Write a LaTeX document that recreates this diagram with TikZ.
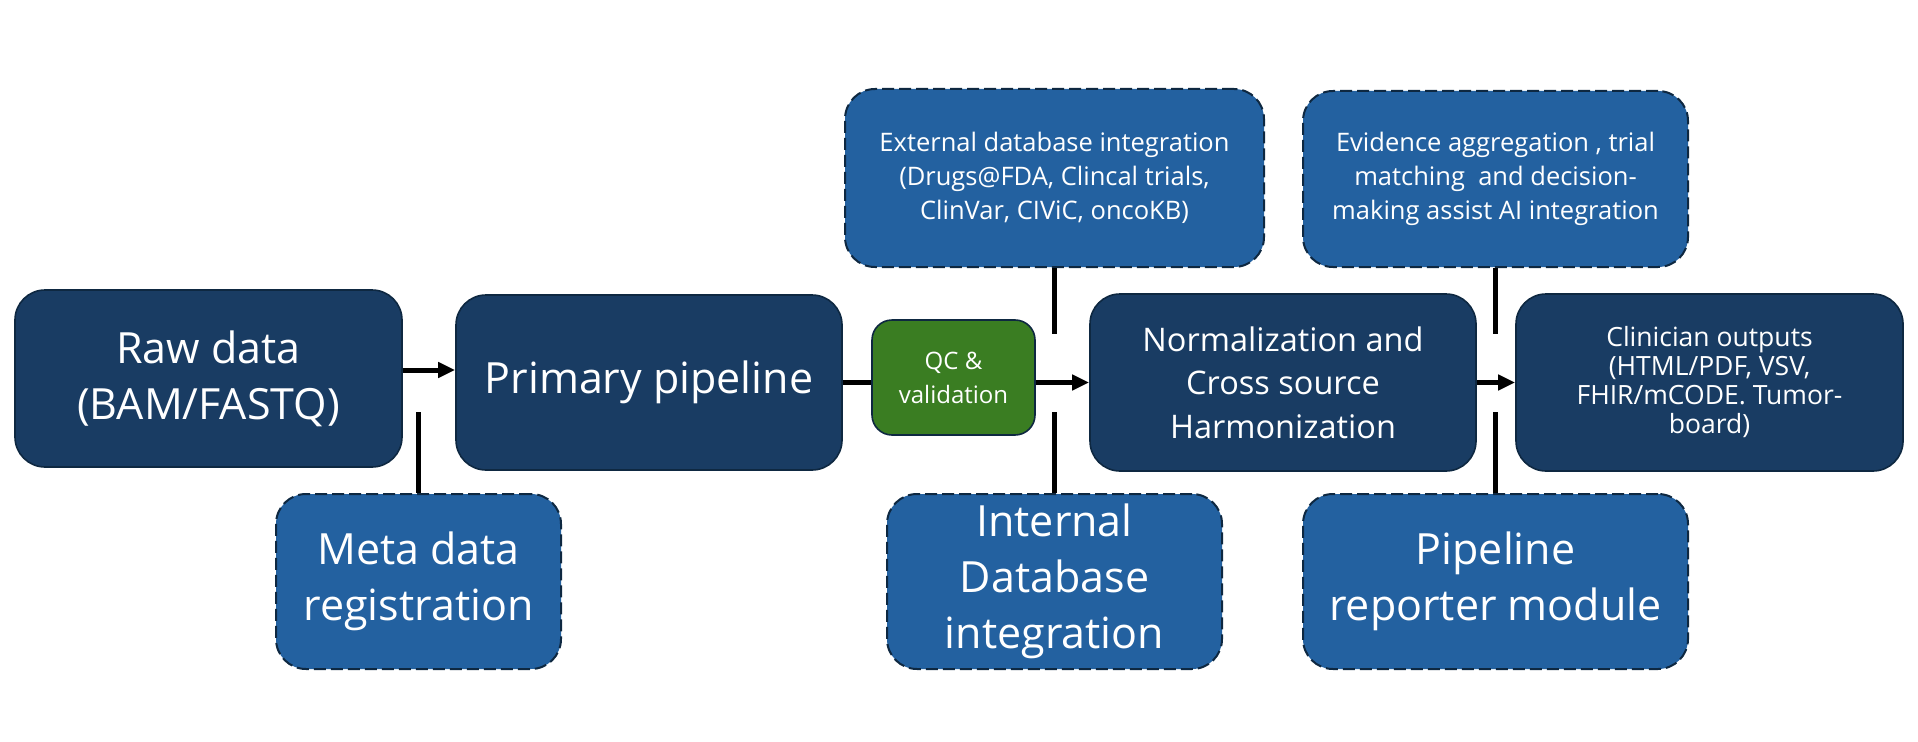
\documentclass[tikz,border=0pt]{standalone}
\usepackage{fontspec}
\setmainfont{Open Sans}
\usetikzlibrary{arrows.meta}
\definecolor{navy}{HTML}{193C63}
\definecolor{midblue}{HTML}{2361A0}
\definecolor{qcgreen}{HTML}{3A7D22}
\definecolor{edge}{HTML}{0E2841}
\tikzset{
  box/.style={draw=edge, line width=1.6pt, rounded corners=30pt, text=white, align=center, inner sep=0pt, anchor=center},
  mainbox/.style={box, fill=navy},
  sidebox/.style={box, fill=midblue, dash pattern=on 12pt off 5pt, line width=2pt},
  qcbox/.style={box, fill=qcgreen, rounded corners=20pt},
  bigtxt/.style={font=\fontsize{43}{56}\selectfont},
  midtxt/.style={font=\fontsize{32.5}{43.5}\selectfont},
  smalltxt/.style={font=\fontsize{25.5}{34}\selectfont},
  clintxt/.style={font=\fontsize{26.5}{29}\selectfont},
  qctxt/.style={font=\fontsize{24}{34}\selectfont},
  conn/.style={line width=5pt, draw=black},
  arr/.style={conn, -{Triangle[length=17pt,width=15pt]}},
}
\begin{document}
\begin{tikzpicture}[x=1pt,y=-1pt]
\useasboundingbox (0,0) rectangle (1918,741);
% main row
\node[mainbox, bigtxt, minimum width=387pt, minimum height=177pt] (raw) at (208.5,378.5) {Raw data\\(BAM/FASTQ)};
\node[mainbox, bigtxt, minimum width=386pt, minimum height=175pt] (prim) at (649,382.5) {Primary pipeline};
\node[qcbox, qctxt, minimum width=163pt, minimum height=115pt] (qc) at (953.5,377.5) {QC \&\\validation};
\node[mainbox, midtxt, minimum width=386pt, minimum height=177pt] (norm) at (1283,382.5) {Normalization and\\Cross source\\Harmonization};
\node[mainbox, clintxt, minimum width=387pt, minimum height=177pt] (clin) at (1709.5,382.5) {Clinician outputs\\(HTML/PDF, VSV,\\FHIR/mCODE. Tumor-\\board)};
% top side boxes
\node[sidebox, smalltxt, minimum width=419pt, minimum height=178pt] (ext) at (1054.5,178) {External database integration\\(Drugs@FDA, Clincal trials,\\ClinVar, CIViC, oncoKB)};
\node[sidebox, smalltxt, minimum width=385pt, minimum height=176pt] (evid) at (1495.5,179) {Evidence aggregation , trial\\matching\ \ and decision-\\making assist AI integration};
% bottom side boxes
\node[sidebox, bigtxt, minimum width=285pt, minimum height=175pt] (meta) at (418.5,581.5) {Meta data\\registration};
\node[sidebox, bigtxt, minimum width=335pt, minimum height=175pt] (intdb) at (1054.5,581.5) {Internal\\Database\\integration};
\node[sidebox, bigtxt, minimum width=385pt, minimum height=175pt] (rep) at (1495.5,581.5) {Pipeline\\reporter module};
% free ends
\coordinate (rawy) at (0,370);
\coordinate (metaend) at (418.5,412);
\coordinate (extend) at (1054.5,334);
\coordinate (intend) at (1054.5,412);
\coordinate (evidend) at (1495.5,334);
\coordinate (repend) at (1495.5,412);
% connectors
\draw[arr] (raw.east |- rawy) -- (prim.west |- rawy);
\draw[conn] (prim.east) -- (qc.west |- prim.east);
\draw[arr] (qc.east |- norm.west) -- (norm.west);
\draw[arr] (norm.east) -- (clin.west);
\draw[conn] (meta.north) -- (metaend);
\draw[conn] (ext.south) -- (extend);
\draw[conn] (intdb.north) -- (intend);
\draw[conn] (evid.south) -- (evidend);
\draw[conn] (rep.north) -- (repend);
\end{tikzpicture}
\end{document}
